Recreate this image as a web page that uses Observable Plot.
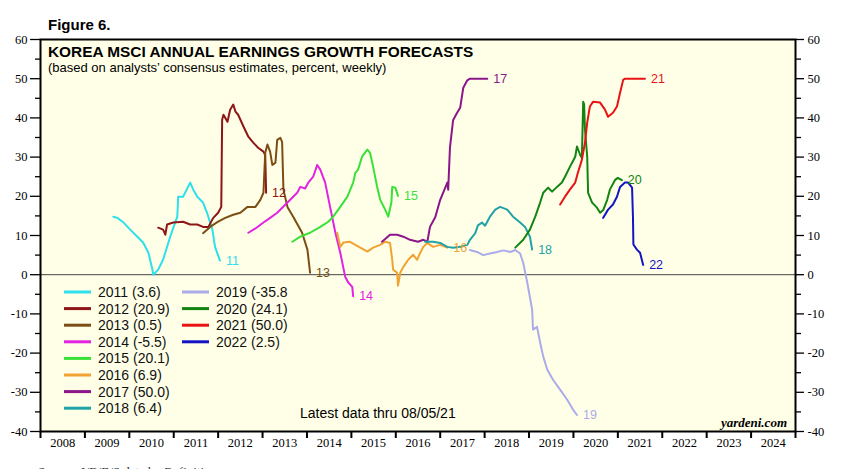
<!DOCTYPE html>
<html><head><meta charset="utf-8">
<script src="https://cdn.jsdelivr.net/npm/d3@7"></script>
<script src="https://cdn.jsdelivr.net/npm/@observablehq/plot@0.6"></script>
<style>body{margin:0;background:#fff}</style>
</head><body><div id="chart"></div>
<script>
// ---- data (decimal year, forecast growth %) ----
const seriesNames = ["2011","2012","2013","2014","2015","2016","2017","2018","2019","2020","2021","2022"];
const endLabels = ["11","12","13","14","15","16","17","18","19","20","21","22"];
const legendLabels = ["2011 (3.6)","2012 (20.9)","2013 (0.5)","2014 (-5.5)","2015 (20.1)","2016 (6.9)","2017 (50.0)","2018 (6.4)","2019 (-35.8","2020 (24.1)","2021 (50.0)","2022 (2.5)"];
const seriesColors = ["#2EE0EA","#8E1616","#7A4E14","#E024E0","#38E038","#F0A232","#8A168A","#20A2A6","#ABABEA","#128412","#E81414","#1414C4"];
const yearTicks = ["2008","2009","2010","2011","2012","2013","2014","2015","2016","2017","2018","2019","2020","2021","2022","2023","2024"];

const s2011 = [[2009.64,14.8],[2009.73,14.5],[2009.87,13.3],[2010.02,11.5],[2010.18,9.7],[2010.31,8.2],[2010.43,5.6],[2010.52,1.3],[2010.54,0.0],[2010.65,1.3],[2010.76,3.8],[2010.92,9.7],[2011.08,14.8],[2011.10,19.9],[2011.21,19.9],[2011.37,23.5],[2011.44,21.7],[2011.53,19.9],[2011.66,18.4],[2011.75,15.8],[2011.87,11.5],[2011.93,7.1],[2012.04,3.6]];
const s2012 = [[2010.65,12.0],[2010.76,11.5],[2010.81,10.2],[2010.85,12.8],[2010.99,13.3],[2011.21,13.5],[2011.37,12.8],[2011.53,12.8],[2011.66,12.2],[2011.78,12.2],[2011.89,14.5],[2012.00,15.8],[2012.07,17.3],[2012.09,39.5],[2012.12,40.8],[2012.21,39.0],[2012.27,42.1],[2012.34,43.4],[2012.39,41.6],[2012.45,40.8],[2012.57,37.8],[2012.68,35.2],[2012.79,33.7],[2012.90,32.4],[2013.02,31.4],[2013.06,30.5],[2013.08,20.9]];
const s2013 = [[2011.66,10.6],[2011.82,12.2],[2011.98,13.4],[2012.16,14.5],[2012.34,15.3],[2012.50,15.8],[2012.66,17.3],[2012.84,17.3],[2012.95,19.1],[2013.02,20.9],[2013.06,31.1],[2013.11,33.2],[2013.17,31.4],[2013.22,28.0],[2013.29,28.6],[2013.33,34.4],[2013.40,34.9],[2013.44,33.9],[2013.47,21.7],[2013.56,17.3],[2013.69,14.8],[2013.89,10.7],[2014.01,6.4],[2014.07,0.5]];
const s2014 = [[2012.68,10.7],[2012.84,11.8],[2013.02,13.3],[2013.17,14.5],[2013.33,15.8],[2013.56,18.4],[2013.78,20.9],[2013.85,22.4],[2013.96,22.0],[2014.03,23.5],[2014.14,25.0],[2014.23,28.0],[2014.30,26.8],[2014.41,23.5],[2014.52,17.3],[2014.64,10.7],[2014.75,5.6],[2014.86,-0.5],[2014.93,-2.0],[2015.02,-3.1],[2015.04,-5.5]];
const s2015 = [[2013.67,8.4],[2013.85,9.7],[2014.07,10.7],[2014.30,12.2],[2014.48,13.5],[2014.59,14.8],[2014.75,17.3],[2014.91,19.9],[2015.04,23.5],[2015.09,26.0],[2015.15,26.8],[2015.24,30.1],[2015.36,31.9],[2015.42,31.1],[2015.49,27.5],[2015.58,22.4],[2015.65,19.1],[2015.76,16.6],[2015.83,14.8],[2015.90,18.4],[2015.92,22.4],[2015.99,22.2],[2016.05,20.1]];
const s2016 = [[2014.68,10.7],[2014.75,7.1],[2014.82,8.2],[2014.97,8.4],[2015.20,6.9],[2015.36,5.9],[2015.49,6.9],[2015.65,7.6],[2015.76,8.4],[2015.87,8.1],[2015.92,3.8],[2015.94,1.3],[2016.03,0.5],[2016.05,-2.8],[2016.10,0.5],[2016.17,2.0],[2016.28,3.8],[2016.39,5.1],[2016.48,3.8],[2016.55,5.6],[2016.62,7.1],[2016.71,8.1],[2016.84,7.1],[2017.00,7.6],[2017.16,6.9]];
const s2017 = [[2015.69,8.4],[2015.87,10.2],[2016.03,10.2],[2016.17,9.7],[2016.32,8.9],[2016.50,8.4],[2016.62,8.9],[2016.71,8.4],[2016.77,12.2],[2016.89,14.7],[2017.00,19.1],[2017.16,23.5],[2017.18,21.7],[2017.22,32.5],[2017.29,39.4],[2017.38,41.3],[2017.45,42.6],[2017.52,47.7],[2017.61,49.6],[2017.67,50.0],[2018.06,50.0]];
const s2018 = [[2016.66,8.4],[2016.84,8.4],[2017.00,8.1],[2017.16,7.1],[2017.29,6.9],[2017.45,7.1],[2017.61,7.6],[2017.67,8.9],[2017.79,10.6],[2017.85,12.6],[2017.94,13.3],[2018.01,12.5],[2018.12,14.8],[2018.24,16.6],[2018.35,17.3],[2018.51,16.6],[2018.64,14.8],[2018.80,13.3],[2018.91,12.2],[2019.02,9.7],[2019.07,6.4]];
const s2019 = [[2017.67,6.3],[2017.83,5.8],[2017.97,5.0],[2018.12,5.4],[2018.28,5.8],[2018.42,6.2],[2018.58,5.8],[2018.69,6.3],[2018.80,5.4],[2018.87,3.0],[2018.96,-2.0],[2019.07,-8.9],[2019.09,-14.0],[2019.18,-13.3],[2019.25,-17.3],[2019.32,-20.9],[2019.41,-24.2],[2019.54,-26.8],[2019.70,-29.3],[2019.86,-31.9],[2019.99,-34.4],[2020.08,-35.8]];
const s2020 = [[2018.69,6.9],[2018.87,8.9],[2019.02,11.5],[2019.14,14.8],[2019.25,18.4],[2019.32,20.9],[2019.43,22.2],[2019.52,21.2],[2019.63,22.4],[2019.74,23.5],[2019.81,25.0],[2019.92,27.5],[2020.04,30.1],[2020.08,32.7],[2020.15,30.6],[2020.19,29.8],[2020.22,44.1],[2020.24,43.5],[2020.26,37.0],[2020.31,30.1],[2020.33,20.9],[2020.42,18.4],[2020.53,17.1],[2020.60,15.8],[2020.67,16.5],[2020.76,19.1],[2020.82,21.7],[2020.94,24.2],[2021.00,24.7],[2021.09,24.1]];
const s2021 = [[2019.70,17.9],[2019.81,19.9],[2019.92,21.7],[2020.04,23.5],[2020.10,26.0],[2020.19,29.3],[2020.26,33.7],[2020.31,38.8],[2020.37,42.9],[2020.44,44.1],[2020.60,43.9],[2020.71,42.1],[2020.78,40.3],[2020.89,41.3],[2020.98,42.9],[2021.05,46.4],[2021.12,49.7],[2021.16,50.0],[2021.61,50.0]];
const s2022 = [[2020.67,14.5],[2020.78,16.6],[2020.89,17.9],[2020.98,19.9],[2021.05,22.4],[2021.16,23.5],[2021.23,23.5],[2021.32,22.2],[2021.34,14.8],[2021.35,7.7],[2021.43,6.4],[2021.50,5.6],[2021.57,2.5]];

const allSeries = [s2011,s2012,s2013,s2014,s2015,s2016,s2017,s2018,s2019,s2020,s2021,s2022];
const rows = allSeries.flatMap((s, i) => s.map(([t, v]) => ({t, v, name: seriesNames[i], lab: endLabels[i]})));

const W = 850, H = 469;
const serif = "Liberation Serif, Times New Roman, serif";
const sans = "Liberation Sans, Arial, sans-serif";
const yFmt = d => String(d);
const chart = Plot.plot({
  width: W, height: H,
  marginLeft: 40, marginRight: 55, marginTop: 39, marginBottom: 38,
  style: {background: "#fff", fontFamily: serif, fontSize: "12px", color: "#000"},
  x: {type: "linear", domain: [2008, 2025], label: null},
  y: {domain: [-40, 60], label: null},
  color: {domain: seriesNames, range: seriesColors},
  marks: [
    Plot.frame({fill: "#FFFFE8"}),
    Plot.ruleY([0], {stroke: "#444", strokeWidth: 1}),
    Plot.line(rows, {x: "t", y: "v", z: "name", stroke: "name", strokeWidth: 2, curve: "linear"}),
    Plot.text(rows, Plot.selectLast({x: "t", y: "v", z: "name", text: "lab", fill: "name", dx: 6, textAnchor: "start", fontFamily: sans, fontSize: 12.5})),
    Plot.frame({stroke: "#000", strokeWidth: 2}),
    Plot.axisY({anchor: "left", ticks: d3.range(-40, 61, 10), tickSize: 10, tickPadding: 3, strokeWidth: 1.3, fontSize: 12.5, fontFamily: serif, tickFormat: yFmt}),
    Plot.axisY({anchor: "left", ticks: d3.range(-35, 60, 10), tickSize: 5, strokeWidth: 1.3, tickFormat: () => ""}),
    Plot.axisY({anchor: "right", ticks: d3.range(-40, 61, 10), tickSize: 8, tickPadding: 4, strokeWidth: 1.3, fontSize: 12.5, fontFamily: serif, tickFormat: yFmt}),
    Plot.axisY({anchor: "right", ticks: d3.range(-35, 60, 10), tickSize: 5, strokeWidth: 1.3, tickFormat: () => ""}),
    Plot.axisX({anchor: "bottom", ticks: d3.range(2008, 2026), tickSize: 7, strokeWidth: 2, tickFormat: () => ""}),
    Plot.axisX({anchor: "bottom", ticks: yearTicks.map(y => +y + 0.5), tickSize: 0, tickPadding: 7, fontSize: 12.5, fontFamily: serif, tickFormat: d => String(Math.floor(d))})
  ]
});
document.getElementById("chart").appendChild(chart);

// ---- titles, legend, notes ----
const svg = d3.select(chart);
const notes = svg.append("g").attr("text-anchor", "start");
notes.append("text").attr("x", 48).attr("y", 30).attr("font-family", sans).attr("font-weight", "bold").attr("font-size", 15).text("Figure 6.");
notes.append("text").attr("x", 48).attr("y", 57).attr("font-family", sans).attr("font-weight", "bold").attr("font-size", 15.4).text("KOREA MSCI ANNUAL EARNINGS GROWTH FORECASTS");
notes.append("text").attr("x", 48).attr("y", 72).attr("font-family", sans).attr("font-size", 13).text("(based on analysts\u2019 consensus estimates, percent, weekly)");
notes.append("text").attr("x", 300).attr("y", 418).attr("font-family", sans).attr("font-size", 14).text("Latest data thru 08/05/21");
notes.append("text").attr("x", 787).attr("y", 427).attr("text-anchor", "end").attr("font-family", serif).attr("font-weight", "bold").attr("font-style", "italic").attr("font-size", 13).text("yardeni.com");
notes.append("text").attr("x", 38).attr("y", 476).attr("font-family", serif).attr("font-size", 13).attr("fill", "#333").text("Source: I/B/E/S data by Refinitiv.");

const lg = svg.append("g").attr("text-anchor", "start");
legendLabels.forEach((lab, i) => {
  const col = i < 8 ? 0 : 1, row = i < 8 ? i : i - 8;
  const x0 = col === 0 ? 64 : 182, y0 = 292 + row * 16.6;
  lg.append("line").attr("x1", x0).attr("x2", x0 + 27).attr("y1", y0).attr("y2", y0).attr("stroke", seriesColors[i]).attr("stroke-width", 3);
  lg.append("text").attr("x", x0 + 34).attr("y", y0 + 5).attr("font-family", sans).attr("font-size", 14).attr("fill", "#111").text(lab);
});
</script>
</body></html>
